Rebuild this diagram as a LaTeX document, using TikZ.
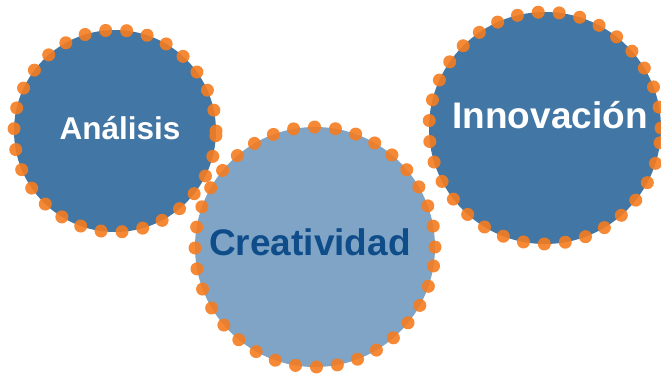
\documentclass[tikz,border=0pt]{standalone}
\usepackage{fontspec}
\setmainfont{Liberation Sans}
\definecolor{darkblob}{RGB}{66,118,164}
\definecolor{lightblob}{RGB}{127,164,197}
\definecolor{navytext}{RGB}{15,76,138}
\definecolor{dotorange}{RGB}{245,124,32}

\begin{document}
\begin{tikzpicture}[x=1pt, y=-1pt,
	bubble/.style={circle, inner sep=0pt, draw=dotorange, line width=13pt, line cap=round, dash pattern=on 0pt off 21pt, draw opacity=0.9},
	word/.style={font=\bfseries\fontsize{37}{40}\selectfont}]
	\useasboundingbox (0,0) rectangle (661,375);
	\node[bubble, fill=darkblob, minimum size=202pt] (ana) at (115,131) {};
	\node[bubble, fill=darkblob, minimum size=232pt] (inno) at (545,128) {};
	\node[bubble, fill=lightblob, minimum size=240pt] (crea) at (315,247) {};
	\node[word, white, font=\bfseries\fontsize{31.5}{36}\selectfont] (anatext) at ([shift={(5,-3)}]ana.center) {Análisis};
	\node[word, white] (innotext) at ([shift={(5,-13)}]inno.center) {Innovación};
	\node[word, navytext] (creatext) at ([shift={(-5,-5)}]crea.center) {Creatividad};
\end{tikzpicture}
\end{document}
